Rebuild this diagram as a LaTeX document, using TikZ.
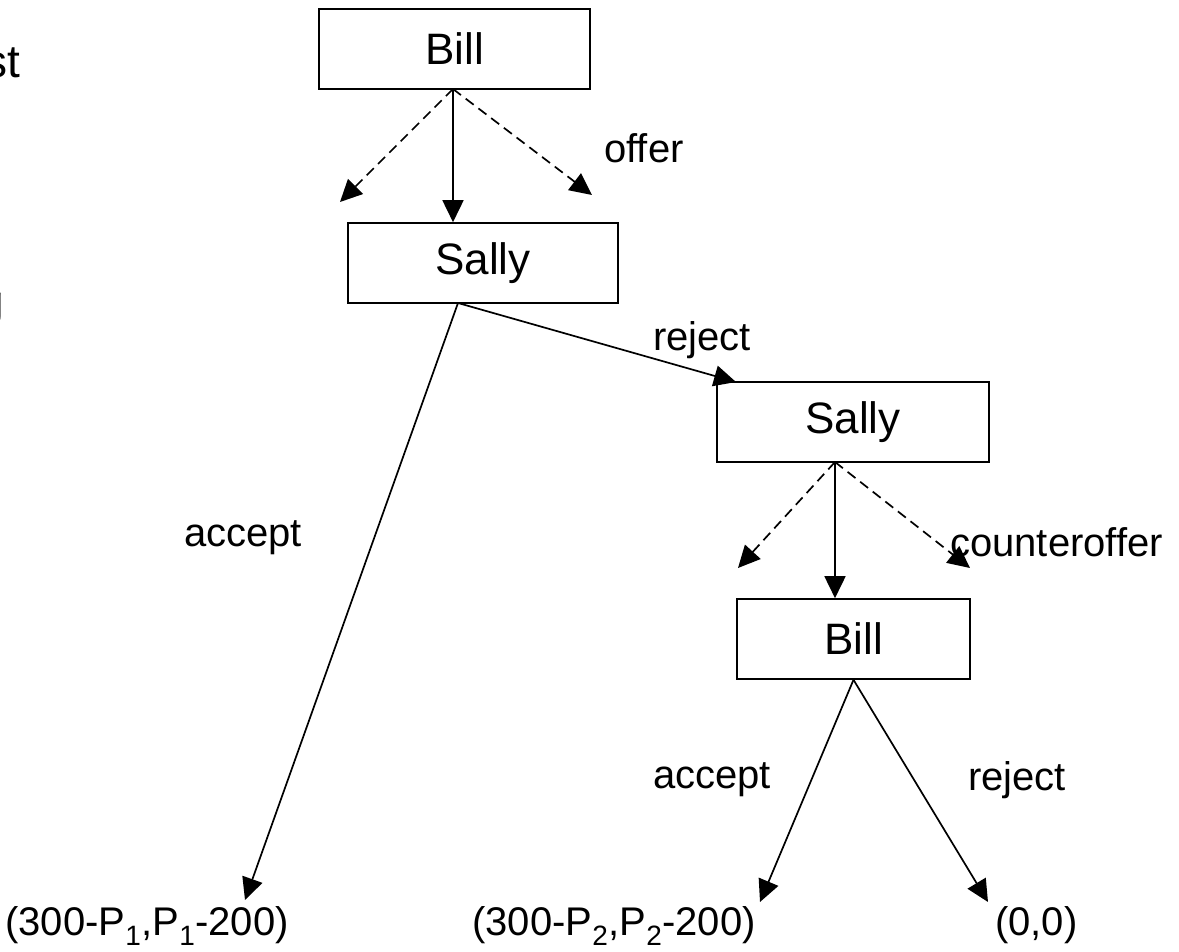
\documentclass[tikz,border=0pt]{standalone}
\usepackage{fontspec}
\setmainfont{Liberation Sans}
\usetikzlibrary{arrows.meta,calc}
\begin{document}
\begin{tikzpicture}[x=1pt,y=-1pt,
  player/.style={draw,line width=1.6pt,minimum width=#1,minimum height=80pt,inner sep=0pt,
    font=\fontsize{44}{50}\selectfont},
  lbl/.style={inner sep=0pt,font=\fontsize{40}{46}\selectfont},
  move/.style={line width=1.7pt,-{Triangle[length=22pt,width=21pt]}},
  alt/.style={move,dash pattern=on 10pt off 6pt}]
\useasboundingbox (0,0) rectangle (1179,952);
\clip (0,0) rectangle (1179,952);

% text cut off at the left edge
\node[lbl,anchor=base east,font=\fontsize{46}{52}\selectfont] (frag1) at (20,78) {st};
\node[lbl,anchor=base east,font=\fontsize{46}{52}\selectfont] (frag2) at (4,318) {g};

% players
\node[player=271pt] (b1) at (454.5,49) {Bill};
\node[player=270pt] (s1) at (483,263) {Sally};
\node[player=272pt] (s2) at (853,422) {Sally};
\node[player=233pt] (b2) at (853.5,639) {Bill};

% payoffs
\node[lbl,anchor=base east] (p1) at (289,935) {(300-P\textsubscript{1},P\textsubscript{1}-200)};
\node[lbl,anchor=base east] (p2) at (756,935) {(300-P\textsubscript{2},P\textsubscript{2}-200)};
\node[lbl,anchor=base west] (p3) at (995,935) {(0,0)};

% move labels
\node[lbl] (loffer) at (644,148) {offer};
\node[lbl] (lrej1) at (702,340) {reject};
\node[lbl] (lacc1) at (243,538) {accept};
\node[lbl,anchor=west] (lcounter) at (950,542) {counteroffer};
\node[lbl] (lacc2) at (712,780) {accept};
\node[lbl] (lrej2) at (1017,780) {reject};

% end points of the alternative offers
\coordinate (b1l) at (340,202);
\coordinate (b1r) at (592,195);
\coordinate (s2l) at (738,568);
\coordinate (s2r) at (970,568);
\coordinate (s1o) at (458,303);
\coordinate (b1o) at (453,89);
\coordinate (s2o) at (835,462);
\coordinate (s2in) at (736,382);
\coordinate (p1t) at (245,900);
\coordinate (p2t) at (760,902);
\coordinate (p3t) at (988,902);

% Bill's offer
\draw[move] (b1o) -- (b1o |- s1.north);
\draw[alt] (b1o) -- (b1l);
\draw[alt] (b1o) -- (b1r);

% Sally's reply
\draw[move] (s1o) -- (p1t);
\draw[move] (s1o) -- (s2in);

% Sally's counteroffer
\draw[move] (s2o) -- (s2o |- b2.north);
\draw[alt] (s2o) -- (s2l);
\draw[alt] (s2o) -- (s2r);

% Bill's reply
\draw[move] (b2.south) -- (p2t);
\draw[move] (b2.south) -- (p3t);
\end{tikzpicture}
\end{document}
